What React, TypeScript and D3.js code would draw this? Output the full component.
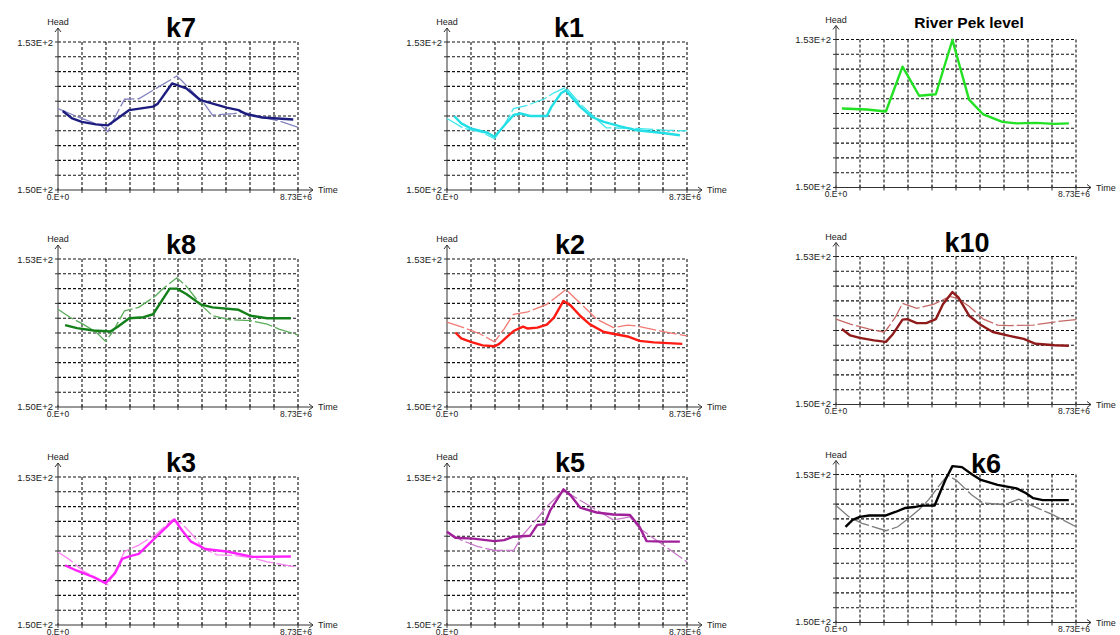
import React from "react";
import * as d3 from "d3";

// time in days (101 d = 8.73E+6 s), head in m
type Pt = [number, number];

const k7Sim: Pt[] = [[2,151.60],[6,151.45],[10,151.38],[16,151.33],[21,151.31],[23,151.38],[30,151.62],[40,151.69],[42,151.75],[48,152.16],[54,152.06],[60,151.82],[71,151.67],[76,151.62],[79,151.54],[86,151.47],[99,151.43]];
const k7Obs: Pt[] = [[0,151.65],[10,151.45],[18,151.31],[21,151.18],[24,151.48],[28,151.84],[34,151.85],[50,152.31],[52,152.22],[62,151.72],[65,151.52],[74,151.55],[78,151.58],[86,151.47],[93,151.40],[101,151.27]];

const k1Sim: Pt[] = [[3,151.50],[6,151.35],[10,151.25],[17,151.16],[20,151.08],[28,151.52],[31,151.55],[35,151.50],[42,151.50],[44,151.69],[48,151.96],[50,152.02],[51,151.96],[56,151.69],[61,151.48],[66,151.38],[73,151.29],[80,151.21],[90,151.16],[98,151.11]];
const k1Obs: Pt[] = [[0,151.45],[7,151.25],[14,151.18],[20,151.04],[24,151.31],[28,151.65],[34,151.72],[41,151.85],[45,151.97],[50,152.08],[56,151.75],[62,151.48],[67,151.26],[79,151.25],[93,151.21],[101,151.20]];

const riverLevel: Pt[] = [[2.5,151.60],[13,151.58],[17,151.56],[21,151.54],[28,152.45],[35,151.86],[42,151.89],[49,152.99],[56,151.78],[62,151.48],[70,151.33],[76,151.30],[84,151.31],[92,151.29],[98,151.30]];

const k8Sim: Pt[] = [[3,151.66],[8,151.60],[15,151.55],[22,151.53],[25,151.62],[30,151.80],[36,151.82],[40,151.88],[47,152.40],[50,152.40],[54,152.29],[60,152.08],[65,152.02],[76,151.97],[81,151.85],[88,151.80],[98,151.80]];
const k8Obs: Pt[] = [[0,151.98],[5,151.82],[10.5,151.68],[16,151.52],[20,151.33],[23,151.52],[28,151.95],[34,152.02],[41,152.25],[44,152.39],[50,152.62],[54,152.45],[60,152.08],[65,151.85],[72,151.77],[81,151.75],[88,151.68],[93,151.58],[101,151.46]];

const k2Sim: Pt[] = [[3.5,151.51],[6,151.39],[10,151.32],[15,151.25],[20,151.23],[22,151.28],[28,151.54],[32,151.63],[34,151.59],[38,151.61],[42,151.67],[45,151.81],[49,152.15],[52,152.06],[56,151.85],[60,151.68],[66,151.52],[76,151.43],[81,151.34],[87,151.31],[99,151.28]];
const k2Obs: Pt[] = [[0,151.72],[7,151.61],[14,151.48],[20,151.32],[24,151.58],[28,151.88],[34,151.93],[42,152.08],[50,152.38],[56,152.11],[63,151.78],[70,151.61],[76,151.66],[80,151.64],[90,151.54],[101,151.44]];

const k10Sim: Pt[] = [[2.5,151.53],[6,151.40],[10,151.35],[16,151.30],[21,151.27],[24,151.43],[28,151.72],[30,151.73],[34,151.65],[38,151.65],[42,151.73],[45,152.03],[49,152.28],[51.5,152.17],[56,151.80],[61,151.61],[66,151.47],[73,151.39],[79,151.33],[84,151.23],[92,151.20],[98,151.19]];
const k10Obs: Pt[] = [[0,151.73],[6,151.63],[14,151.53],[20,151.47],[21,151.50],[25,151.77],[28,152.05],[34,151.95],[41,152.03],[48,152.19],[51,152.15],[56,151.99],[62,151.73],[68,151.61],[73,151.60],[83,151.61],[93,151.68],[101,151.72]];

const k3Sim: Pt[] = [[3,151.21],[8,151.10],[15,150.97],[20,150.85],[24,151.05],[27,151.34],[30,151.39],[34,151.44],[41,151.77],[49,152.14],[52,151.93],[56,151.69],[62,151.54],[71,151.49],[82,151.38],[98,151.39]];
const k3Obs: Pt[] = [[0,151.48],[5,151.32],[10.5,151.10],[21,150.82],[24,151.09],[28,151.49],[34,151.62],[41,151.83],[48,152.13],[52,152.06],[56,151.86],[61,151.56],[67,151.42],[74,151.41],[82,151.36],[88,151.28],[101,151.17]];

const k5Sim: Pt[] = [[0,151.89],[3.5,151.77],[11,151.75],[20,151.70],[24,151.72],[28,151.79],[35,151.81],[38,152.03],[41,152.04],[43.5,152.33],[49,152.75],[52,152.63],[56,152.38],[63,152.28],[70,152.24],[77,152.23],[81,151.99],[84,151.70],[91,151.69],[98,151.69]];
const k5Obs: Pt[] = [[0,151.89],[6,151.72],[13,151.59],[20,151.51],[28,151.51],[32,151.83],[38,152.16],[42,152.40],[49,152.73],[56,152.53],[63,152.33],[70,152.13],[77,152.19],[81,151.96],[91,151.62],[101,151.28]];

const k6Sim: Pt[] = [[4,151.94],[7,152.08],[10,152.14],[14,152.17],[21,152.17],[25,152.24],[29,152.32],[33,152.34],[36,152.37],[41.5,152.37],[46,152.89],[49,153.17],[53,153.15],[57,153.01],[61,152.89],[68,152.79],[76,152.72],[80,152.62],[83,152.52],[87,152.48],[98,152.48]];
const k6Obs: Pt[] = [[0,152.37],[5.5,152.14],[11,152.01],[21,151.86],[26,151.94],[30,152.09],[35,152.29],[39,152.49],[43,152.75],[47,152.99],[51,152.87],[57,152.59],[62,152.42],[71,152.39],[77,152.50],[80,152.42],[91,152.19],[101,151.94]];

const headMin = 150;
const headMax = 153;
const timeMax = 101; // days
const gridCount = 10;

const panels = [
  { title: "k7", sim: k7Sim, obs: k7Obs, c1: "#1d1d80", c2: "#8383c2", col: 0, row: 0 },
  { title: "k1", sim: k1Sim, obs: k1Obs, c1: "#22dfe6", c2: "#3ee8ee", col: 1, row: 0 },
  { title: "River Pek level", sim: riverLevel, obs: null, c1: "#22e022", c2: "", col: 2, row: 0 },
  { title: "k8", sim: k8Sim, obs: k8Obs, c1: "#13801a", c2: "#5aac5a", col: 0, row: 1 },
  { title: "k2", sim: k2Sim, obs: k2Obs, c1: "#ff1a14", c2: "#f27a74", col: 1, row: 1 },
  { title: "k10", sim: k10Sim, obs: k10Obs, c1: "#8e1a1a", c2: "#c46a66", col: 2, row: 1 },
  { title: "k3", sim: k3Sim, obs: k3Obs, c1: "#ff22ff", c2: "#ff86f4", col: 0, row: 2 },
  { title: "k5", sim: k5Sim, obs: k5Obs, c1: "#a0209a", c2: "#c878c8", col: 1, row: 2 },
  { title: "k6", sim: k6Sim, obs: k6Obs, c1: "#000000", c2: "#7c7c7c", col: 2, row: 2 },
];

const colLeft = [58, 447, 836];
const rowTop = [42, 259, 477];
const plotW = 240;
const plotH = 148;
const font = "'Liberation Sans', Arial, sans-serif";

// title nudges
const titleDx: Record<string, number> = { k7: 3, k1: 2, "River Pek level": 13, k8: 3, k2: 3, k10: 11, k3: 3, k5: 3, k6: 30 };
const titleDy: Record<string, number> = { "River Pek level": -12, k6: -2 };

const sci = (v: number) => v.toExponential(2).replace("e", "E");

const Panel = ({ p }: { p: (typeof panels)[number] }) => {
  const x = d3.scaleLinear().domain([0, timeMax]).range([0, plotW]);
  const y = d3.scaleLinear().domain([headMin, headMax]).range([plotH, 0]);
  const line = d3.line<Pt>().x((d) => x(d[0])).y((d) => y(d[1]));

  const xGrid = d3.range(gridCount + 1).map((i) => (timeMax * i) / gridCount);
  const yGrid = d3.range(gridCount + 1).map((i) => headMin + ((headMax - headMin) * i) / gridCount);

  const left = colLeft[p.col];
  const top = rowTop[p.row] - (p.col === 2 ? 2.5 : 0);
  const big = p.title.length > 3;

  return (
    <g transform={`translate(${left},${top})`}>
      {/* grid */}
      {yGrid.slice(1).map((v) => (
        <line key={"h" + v} x1={0} x2={plotW} y1={y(v)} y2={y(v)} stroke="#111" strokeWidth={1.1} strokeDasharray="3,2" />
      ))}
      {xGrid.slice(1).map((v) => (
        <line key={"v" + v} x1={x(v)} x2={x(v)} y1={0} y2={plotH} stroke="#111" strokeWidth={1.1} strokeDasharray="3,2" />
      ))}
      {/* ticks */}
      {yGrid.map((v) => (
        <line key={"yt" + v} x1={-3} x2={0} y1={y(v)} y2={y(v)} stroke="#333" />
      ))}
      {xGrid.map((v) => (
        <line key={"xt" + v} x1={x(v)} x2={x(v)} y1={plotH - 2} y2={plotH + 3} stroke="#333" />
      ))}
      {/* axes */}
      <line x1={0} x2={0} y1={plotH} y2={-14} stroke="#333" />
      <path d="M-3,-10 L0,-14 L3,-10" fill="none" stroke="#333" />
      <line x1={0} x2={plotW + 15} y1={plotH} y2={plotH} stroke="#333" />
      <path d={`M${plotW + 11},${plotH - 3} L${plotW + 15},${plotH} L${plotW + 11},${plotH + 3}`} fill="none" stroke="#333" />

      {/* labels */}
      <g fontFamily={font} fill="#222">
        <text x={0} y={-17} textAnchor="middle" fontSize={9}>Head</text>
        <text x={-5} y={y(headMax) + 3.5} textAnchor="end" fontSize={9.5}>{sci(headMax)}</text>
        <text x={-5} y={y(headMin) + 2.5} textAnchor="end" fontSize={9.5}>{sci(headMin)}</text>
        <text x={0} y={plotH + 9.5} textAnchor="middle" fontSize={8.5}>0.E+0</text>
        <text x={plotW - 2} y={plotH + 9.5} textAnchor="middle" fontSize={8.5}>{sci(timeMax * 86400)}</text>
        <text x={plotW + 20} y={plotH + 3} fontSize={9}>Time</text>
      </g>

      {/* series */}
      {p.obs && (
        <path d={line(p.obs) || ""} fill="none" stroke={p.c2} strokeWidth={1.3} strokeDasharray="18,3" />
      )}
      <path d={line(p.sim) || ""} fill="none" stroke={p.c1} strokeWidth={2.4} strokeLinejoin="round" />

      <text
        x={plotW / 2 + (titleDx[p.title] || 0)}
        y={(titleDy[p.title] ?? -5)}
        textAnchor="middle"
        fontFamily={font}
        fontWeight="bold"
        fontSize={big ? 15.5 : 27}
        fill="#000"
      >
        {p.title}
      </text>
    </g>
  );
};

export default function App() {
  return (
    <svg width={1120} height={635} style={{ position: "absolute", left: 0, top: 0, background: "#fff" }}>
      <rect width={1120} height={635} fill="#fff" />
      {panels.map((p) => (
        <Panel key={p.title} p={p} />
      ))}
    </svg>
  );
}
